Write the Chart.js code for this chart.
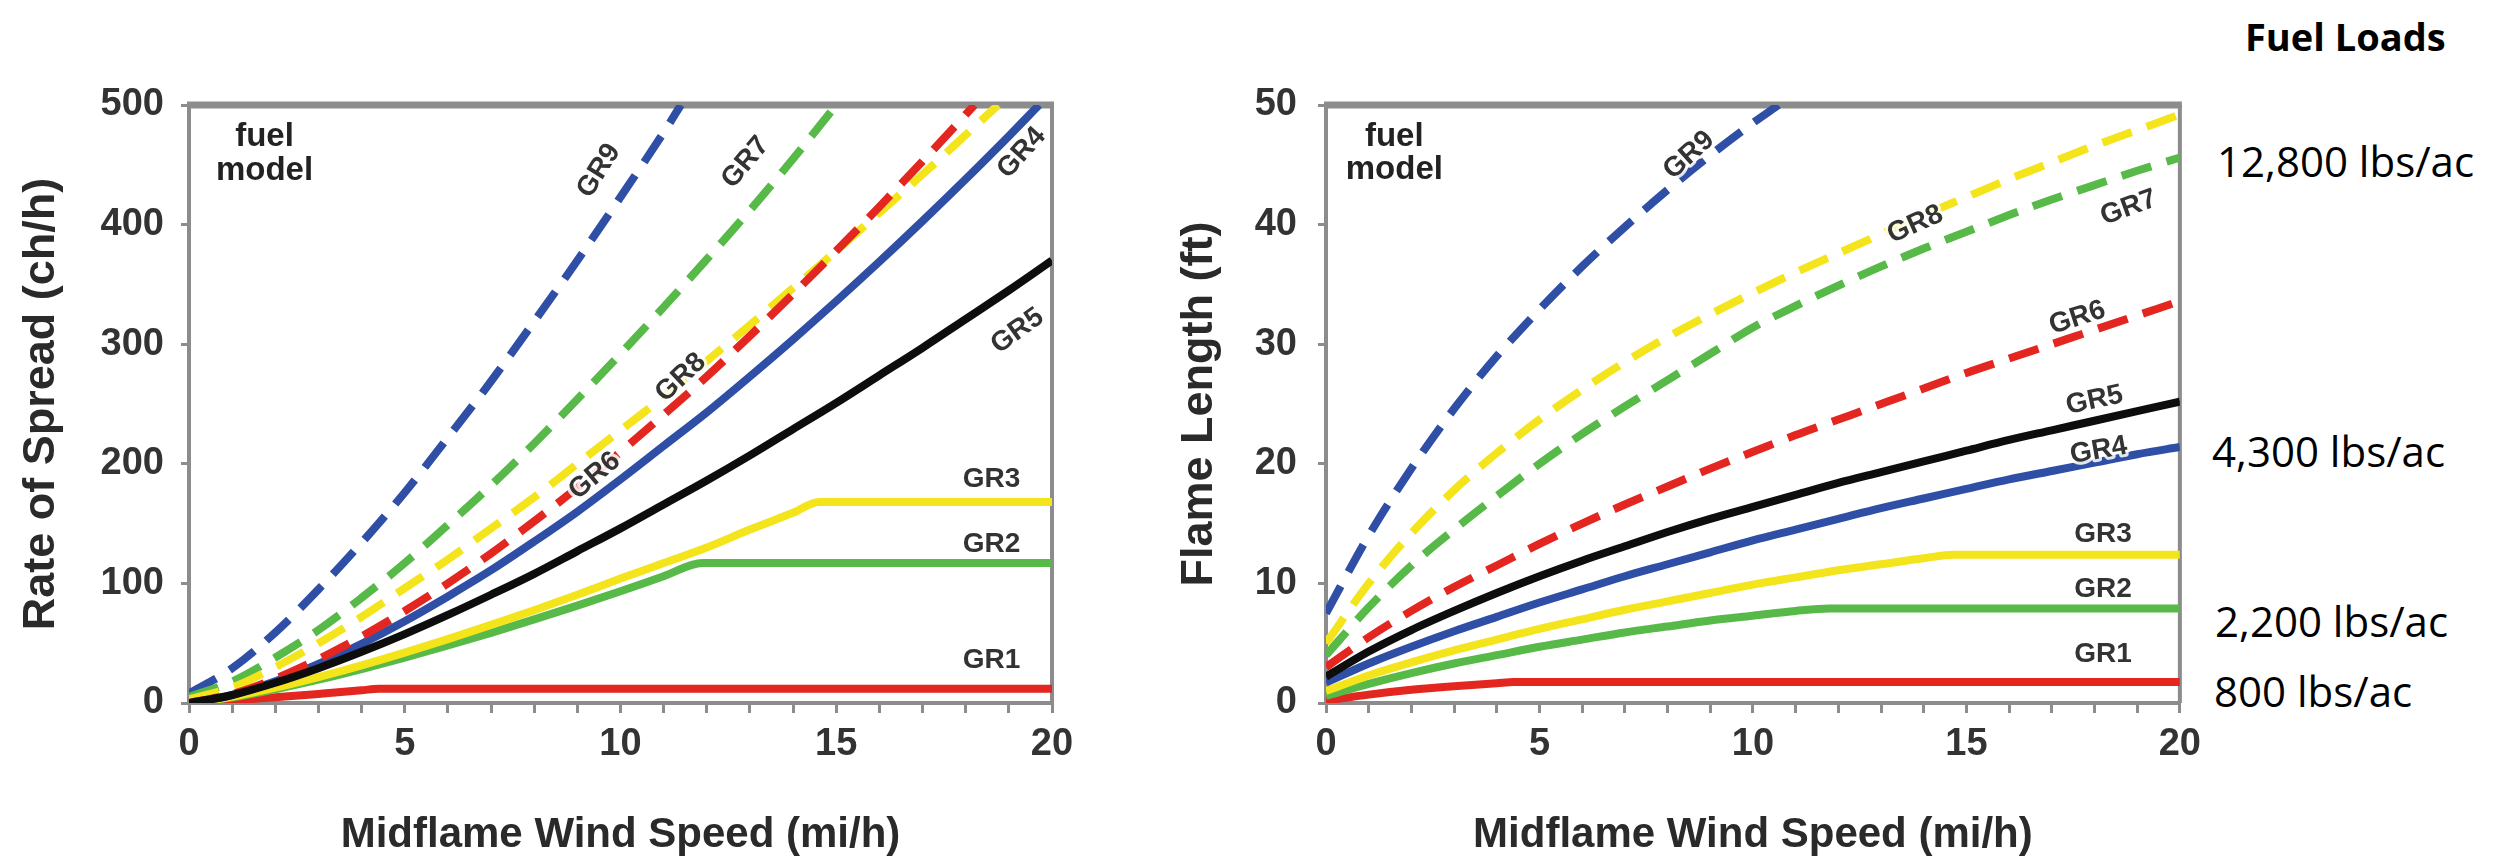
<!DOCTYPE html>
<html>
<head>
<meta charset="utf-8">
<script src="https://cdn.jsdelivr.net/npm/chart.js@4.4.1/dist/chart.umd.min.js"></script>
<style>
  body { margin: 0; background: #fff; width: 2503px; height: 865px; position: relative; overflow: hidden; }
  #ros { position: absolute; left: 0; top: 0; }
  #fl { position: absolute; left: 1150px; top: 0; }
  .load { position: absolute; font-family: "Open Sans", sans-serif; font-size: 42px; line-height: 1; color: #000; white-space: nowrap; }
  .head { position: absolute; font-family: "Open Sans", sans-serif; font-size: 38px; font-weight: bold; line-height: 1; color: #000; }
</style>
</head>
<body>
<canvas id="ros" width="1100" height="865"></canvas>
<canvas id="fl" width="1060" height="865"></canvas>
<div class="head" style="left:2245px; top:17px;">Fuel Loads</div>
<div class="load" style="left:2217px; top:140px;">12,800 lbs/ac</div>
<div class="load" style="left:2212px; top:430px;">4,300 lbs/ac</div>
<div class="load" style="left:2215px; top:600px;">2,200 lbs/ac</div>
<div class="load" style="left:2214px; top:670px;">800 lbs/ac</div>
<script>
// [wind speed mi/h, rate of spread ch/h]
const rosGR1 = [[0,0],[1,2.2],[2,4.8],[3,7.6],[4,10.6],[4.4,12],[20,12]]
const rosGR2 = [[0,0],[1,4.7],[2,11.5],[3,19.5],[4,28.4],[5,37.9],[6,48.1],[7,58.7],[8,69.9],[9,81.4],[10,93.4],[11,106],[11.9,117],[20,117]]
const rosGR3 = [[0,0],[1,5.2],[2,12.8],[3,21.7],[4,31.5],[5,42.1],[6,53.4],[7,65.3],[8,77.6],[9,90.5],[10,104],[11,117],[12,130],[13,145],[14,159],[14.6,168],[20,168]]
const rosGR4 = [[0,0],[1,6.6],[2,18.1],[3,32.6],[4,49.5],[5,68.4],[6,89.1],[7,111],[8,135],[9,160],[10,187],[11,215],[12,243],[13,273],[14,304],[15,336],[16,369],[17,403],[18,438],[19,474],[19.7,500]]
const rosGR5 = [[0,0],[1,6.7],[2,16.9],[3,29.1],[4,42.8],[5,57.6],[6,73.6],[7,90.5],[8,108],[9,127],[10,146],[11,166],[12,186],[13,207],[14,229],[15,251],[16,274],[17,297],[18,321],[19,345],[20,370]]
const rosGR6 = [[0,0],[1,7.5],[2,20.3],[3,36.7],[4,55.6],[5,76.9],[6,100],[7,125],[8,152],[9,180],[10,210],[11,241],[12,273],[13,307],[14,342],[15,378],[16,415],[17,453],[18,492],[18.2,500]]
const rosGR7 = [[0,5],[1,18],[2,38],[3,61],[4,88],[5,117],[6,149],[7,182],[8,217],[9,254],[10,292],[11,331],[12,371],[13,412],[14,455],[15,500]]
const rosGR8 = [[0,3],[1,13],[2,30],[3,50],[4,72],[5,96],[6,120],[7,146],[8,172],[9,200],[10,228],[11,256],[12,286],[13,316],[14,347],[15,378],[16,410],[17,442],[18,475],[18.75,500]]
const rosGR9 = [[0,8],[1,29],[2,59],[3,95],[4,134],[5,176],[6,222],[7,269],[8,319],[9,370],[10,423],[11,477],[11.4,500]]

// [wind speed mi/h, flame length ft]
const flGR1 = [[0,0.2],[1,0.7],[2,1.1],[3,1.4],[4,1.65],[4.4,1.75],[20,1.75]]
const flGR2 = [[0,0.6],[1,1.6],[2,2.5],[3,3.3],[4,4],[5,4.7],[6,5.3],[7,5.9],[8,6.4],[9,6.9],[10,7.3],[11,7.7],[11.8,7.9],[20,7.9]]
const flGR3 = [[0,1],[1,2.3],[2,3.4],[3,4.4],[4,5.3],[5,6.2],[6,7],[7,7.8],[8,8.5],[9,9.2],[10,9.9],[11,10.5],[12,11.1],[13,11.6],[14,12.1],[14.7,12.4],[20,12.4]]
const flGR4 = [[0,1.7],[1,3.3],[2,4.7],[3,6],[4,7.2],[5,8.4],[6,9.5],[7,10.6],[8,11.6],[9,12.6],[10,13.6],[11,14.5],[12,15.4],[13,16.3],[14,17.1],[15,17.9],[16,18.7],[17,19.4],[18,20.1],[19,20.8],[20,21.4]]
const flGR5 = [[0,2.2],[1,4.3],[2,6.1],[3,7.7],[4,9.2],[5,10.6],[6,11.9],[7,13.1],[8,14.3],[9,15.4],[10,16.4],[11,17.4],[12,18.4],[13,19.3],[14,20.2],[15,21.1],[16,22],[17,22.8],[18,23.6],[19,24.4],[20,25.2]]
const flGR6 = [[0,3],[1,5.5],[2,7.7],[3,9.7],[4,11.5],[5,13.3],[6,15],[7,16.6],[8,18.1],[9,19.6],[10,21],[11,22.4],[12,23.7],[13,25],[14,26.3],[15,27.6],[16,28.8],[17,30],[18,31.2],[19,32.4],[20,33.6]]
const flGR7 = [[0,4],[1,8],[2,11.5],[3,14.5],[4,17.3],[5,20],[6,22.5],[7,24.8],[8,27],[9,29.2],[10,31.4],[11,33.2],[12,34.9],[13,36.5],[14,38],[15,39.4],[16,40.8],[17,42.1],[18,43.3],[19,44.5],[20,45.6]]
const flGR8 = [[0,5],[1,10],[2,14.2],[3,17.8],[4,20.9],[5,23.7],[6,26.2],[7,28.5],[8,30.6],[9,32.5],[10,34.3],[11,36],[12,37.6],[13,39.2],[14,40.8],[15,42.3],[16,43.8],[17,45.2],[18,46.6],[19,47.9],[20,49.2]]
const flGR9 = [[0,7.5],[1,14],[2,19.6],[3,24.6],[4,29],[5,32.9],[6,36.5],[7,39.8],[8,42.9],[9,45.8],[10,48.5],[10.6,50]]

// series labels: [text, wind speed, value]
const rosLabels = [['GR9',9.5,445],['GR7',12.9,452],['GR8',11.4,272],['GR6',9.4,190],['GR4',19.3,460],['GR5',19.2,311],['GR3',18.6,187],['GR2',18.6,133],['GR1',18.6,36]]
const rosLabelAngles = [-58,-50,-43,-40,-48,-36,0,0,0]
const flLabels = [['GR9',8.5,45.8],['GR8',13.8,40],['GR7',18.8,41.4],['GR6',17.6,32.2],['GR5',18.0,25.3],['GR4',18.1,21.1],['GR3',18.2,14.1],['GR2',18.2,9.5],['GR1',18.2,4.1]]
const flLabelAngles = [-42,-24,-20,-18,-12,-10,0,0,0]

const FONT = "'Liberation Sans', Arial, sans-serif"
const BLUE = '#2f4fa6', GREEN = '#57b947', YELLOW = '#f4e41c', RED = '#e3261f', BLACK = '#0d0d0d'

// lower order is drawn on top
const styles = {
  GR5: {color: BLACK, dash: [], order: 0},
  GR6: {color: RED, dash: [31, 16], order: 1},
  GR8: {color: YELLOW, dash: [31, 16], order: 2},
  GR7: {color: GREEN, dash: [31, 16], order: 3},
  GR9: {color: BLUE, dash: [31, 16], order: 4},
  GR4: {color: BLUE, dash: [], order: 5},
  GR3: {color: YELLOW, dash: [], order: 6},
  GR2: {color: GREEN, dash: [], order: 7},
  GR1: {color: RED, dash: [], order: 8}
}

function makeDatasets(series) {
  return Object.keys(series).map(function(name) {
    let st = styles[name]
    return {
      label: name,
      data: series[name].map(p => ({x: p[0], y: p[1]})),
      borderColor: st.color,
      borderWidth: 8,
      borderDash: st.dash,
      borderCapStyle: 'butt',
      pointRadius: 0,
      cubicInterpolationMode: 'monotone',
      order: st.order
    }
  })
}

const framePlugin = {
  id: 'frame',
  beforeDatasetsDraw(chart) {
    const {ctx, chartArea: a} = chart
    ctx.save()
    ctx.strokeStyle = '#8c8c8c'
    ctx.lineWidth = 4
    ctx.beginPath(); ctx.moveTo(a.right, a.top); ctx.lineTo(a.right, a.bottom); ctx.stroke()
    ctx.lineWidth = 7
    ctx.beginPath(); ctx.moveTo(a.left - 2, a.top); ctx.lineTo(a.right + 2, a.top); ctx.stroke()
    ctx.restore()
  }
}

function labelPlugin(labels, angles, fuelAt) {
  return {
    id: 'grLabels',
    afterDatasetsDraw(chart) {
      const {ctx, scales: {x, y}} = chart
      ctx.save()
      ctx.textAlign = 'center'
      ctx.textBaseline = 'middle'
      ctx.lineJoin = 'round'
      ctx.font = 'bold 28px ' + FONT
      labels.forEach(function(l, i) {
        ctx.save()
        ctx.translate(x.getPixelForValue(l[1]), y.getPixelForValue(l[2]))
        ctx.rotate(angles[i] * Math.PI / 180)
        ctx.lineWidth = 6
        ctx.strokeStyle = 'rgba(255,255,255,0.85)'
        ctx.strokeText(l[0], 0, 0)
        ctx.fillStyle = '#333'
        ctx.fillText(l[0], 0, 0)
        ctx.restore()
      })
      // "fuel model" note
      ctx.font = 'bold 33px ' + FONT
      ctx.fillStyle = '#222'
      ctx.fillText('fuel', x.getPixelForValue(fuelAt[0]), y.getPixelForValue(fuelAt[1]))
      ctx.fillText('model', x.getPixelForValue(fuelAt[0]), y.getPixelForValue(fuelAt[2]))
      ctx.restore()
    }
  }
}

function makeChart(id, series, yMax, yStep, yTitle, opts) {
  const ctx = document.getElementById(id)
  return new Chart(ctx, {
    type: 'line',
    data: {datasets: makeDatasets(series)},
    options: {
      responsive: false,
      animation: false,
      layout: {padding: {top: 105, right: opts.right, left: 0, bottom: 0}},
      plugins: {legend: {display: false}, tooltip: {enabled: false}},
      scales: {
        x: {
          type: 'linear', min: 0, max: 20,
          afterFit: s => { s.height = 162 },
          ticks: {
            stepSize: 1, autoSkip: false, maxRotation: 0, padding: 9,
            callback: v => (v % 5 === 0 ? v : ''),
            color: '#333', font: {family: FONT, weight: 'bold', size: 38}
          },
          grid: {drawOnChartArea: false, tickLength: 10, color: '#8c8c8c', lineWidth: 3},
          border: {display: true, color: '#8c8c8c', width: 4},
          title: {display: true, text: 'Midflame Wind Speed (mi/h)', color: '#2a2a2a',
            font: {family: FONT, weight: 'bold', size: 42}, padding: {top: 0, bottom: 4}}
        },
        y: {
          min: 0, max: yMax,
          afterFit: s => { s.width = opts.axisWidth },
          ticks: {stepSize: yStep, padding: opts.tickPad, color: '#333',
            font: {family: FONT, weight: 'bold', size: 38}},
          grid: {drawOnChartArea: false, tickLength: 8, color: '#8c8c8c', lineWidth: 3},
          border: {display: true, color: '#8c8c8c', width: 4},
          title: {display: true, text: yTitle, color: '#2a2a2a',
            font: {family: FONT, weight: 'bold', size: 45}, padding: {top: opts.titlePad, bottom: 0}}
        }
      }
    },
    plugins: [framePlugin, labelPlugin(opts.labels, opts.angles, opts.fuelAt)]
  })
}

makeChart('ros',
  {GR1: rosGR1, GR2: rosGR2, GR3: rosGR3, GR4: rosGR4, GR5: rosGR5, GR6: rosGR6, GR7: rosGR7, GR8: rosGR8, GR9: rosGR9},
  500, 100, 'Rate of Spread (ch/h)',
  {right: 48, axisWidth: 189, tickPad: 17, titlePad: 15, labels: rosLabels, angles: rosLabelAngles, fuelAt: [1.75, 473, 445]})

makeChart('fl',
  {GR1: flGR1, GR2: flGR2, GR3: flGR3, GR4: flGR4, GR5: flGR5, GR6: flGR6, GR7: flGR7, GR8: flGR8, GR9: flGR9},
  50, 10, 'Flame Length (ft)',
  {right: 24, axisWidth: 176, tickPad: 21, titlePad: 23, labels: flLabels, angles: flLabelAngles, fuelAt: [1.6, 47.3, 44.6]})
</script>
</body>
</html>
